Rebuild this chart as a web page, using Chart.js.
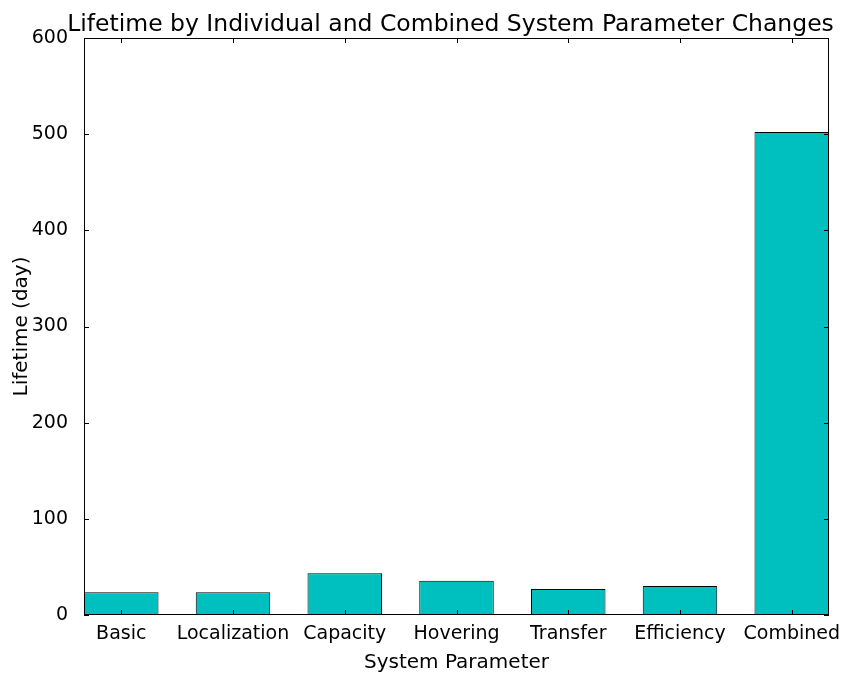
<!DOCTYPE html>
<html>
<head>
<meta charset="utf-8">
<script src="https://cdn.jsdelivr.net/npm/chart.js@4/dist/chart.umd.min.js"></script>
<style>
    html, body { margin: 0; padding: 0; background: #fff; }
    #wrap { width: 853px; height: 673px; }
</style>
</head>
<body>
<div id="wrap"><canvas id="chart"></canvas></div>
<script>
const categories = ["Basic", "Localization", "Capacity", "Hovering", "Transfer", "Efficiency", "Combined"]
const lifetimes = [23.6, 23.6, 43.4, 35.7, 27, 30.2, 502.2]
const yTicks = [0, 100, 200, 300, 400, 500, 600]

const barWidth = 2 / 3
const font = "'DejaVu Sans', sans-serif"

// matplotlib classic look: box frame, ticks pointing inward on all sides
const framePlugin = {
    id: "frame",
    afterDatasetsDraw(chart) {
        const { ctx, chartArea: a, scales } = chart
        ctx.save()
        ctx.strokeStyle = "#000"
        ctx.lineWidth = 1
        ctx.strokeRect(a.left + 0.5, a.top + 0.5, a.right - a.left - 1, a.bottom - a.top - 1)
        const len = 5
        ctx.beginPath()
        scales.y.ticks.forEach((t) => {
            const y = Math.round(scales.y.getPixelForValue(t.value)) + 0.5
            ctx.moveTo(a.left, y)
            ctx.lineTo(a.left + len, y)
            ctx.moveTo(a.right, y)
            ctx.lineTo(a.right - len, y)
        })
        scales.x.ticks.forEach((t) => {
            const x = Math.round(scales.x.getPixelForValue(t.value)) + 0.5
            ctx.moveTo(x, a.bottom)
            ctx.lineTo(x, a.bottom - len)
            ctx.moveTo(x, a.top)
            ctx.lineTo(x, a.top + len)
        })
        ctx.stroke()

        ctx.fillStyle = "#000"
        ctx.font = "23.5px " + font
        ctx.textAlign = "center"
        ctx.textBaseline = "alphabetic"
        ctx.fillText("Lifetime by Individual and Combined System Parameter Changes", (a.left + a.right) / 2 - 6, 31)
        ctx.restore()
    },
}

new Chart(document.getElementById("chart"), {
    type: "bar",
    data: {
        datasets: [
            {
                data: lifetimes.map((v, i) => ({ x: i + barWidth / 2, y: v })),
                backgroundColor: "#00bfbf",
                borderColor: "#000",
                borderWidth: 1,
                borderSkipped: false,
                categoryPercentage: 1,
                barPercentage: barWidth,
            },
        ],
    },
    options: {
        responsive: true,
        maintainAspectRatio: false,
        animation: false,
        layout: {
            padding: { top: 38, right: 24, left: 8, bottom: 0 },
        },
        plugins: {
            legend: { display: false },
            tooltip: { enabled: false },
        },
        scales: {
            x: {
                type: "linear",
                offset: false,
                min: 0,
                max: categories.length - 1 + barWidth,
                grid: { display: false, offset: false },
                border: { display: false },
                afterBuildTicks: (scale) => {
                    scale.ticks = categories.map((c, i) => ({ value: i + barWidth / 2 }))
                },
                afterFit: (scale) => {
                    scale.height = 58
                },
                ticks: {
                    autoSkip: false,
                    maxRotation: 0,
                    padding: 0,
                    color: "#000",
                    font: { family: font, size: 19 },
                    callback: (v, i) => categories[i],
                },
                title: {
                    display: true,
                    text: "System Parameter",
                    color: "#000",
                    font: { family: font, size: 20 },
                    padding: { top: 0, bottom: -2 },
                },
            },
            y: {
                min: 0,
                max: 600,
                grid: { display: false },
                border: { display: false },
                afterBuildTicks: (scale) => {
                    scale.ticks = yTicks.map((v) => ({ value: v }))
                },
                afterFit: (scale) => {
                    scale.width = 76
                },
                ticks: {
                    padding: 8,
                    color: "#000",
                    font: { family: font, size: 19 },
                },
                title: {
                    display: true,
                    text: "Lifetime (day)",
                    color: "#000",
                    font: { family: font, size: 20 },
                    padding: { top: 2, bottom: 0 },
                },
            },
        },
    },
    plugins: [framePlugin],
})
</script>
</body>
</html>
